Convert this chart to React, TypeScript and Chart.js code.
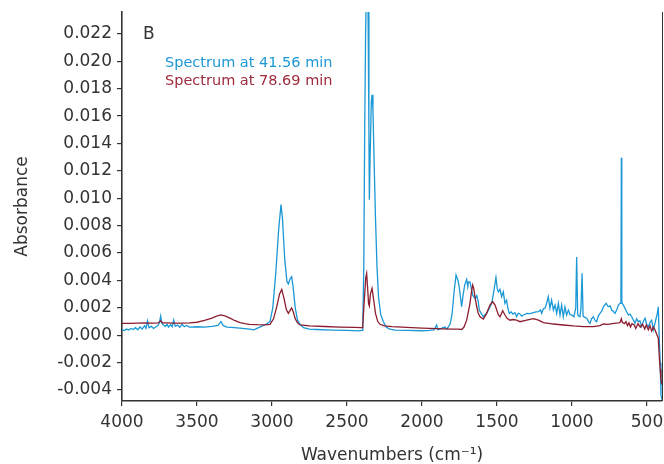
import React, { useEffect, useRef } from 'react';
import { Chart, registerables } from 'chart.js';

Chart.register(...registerables);

// ---- Data (wavenumber, absorbance) ----
const blueWn = [
  4000, 3985, 3970, 3955, 3940, 3925, 3910, 3895, 3880, 3865, 3850, 3840, 3830, 3820, 3805, 3790, 3775, 3760,
  3750, 3742, 3735, 3725, 3710, 3700, 3690, 3675, 3665, 3655, 3645, 3630, 3615, 3600, 3585, 3570, 3550, 3500,
  3450, 3400, 3360, 3340, 3325, 3300, 3250, 3200, 3150, 3120, 3100, 3070, 3040, 3013, 2995, 2975, 2955, 2940,
  2930, 2915, 2900, 2891, 2880, 2869, 2860, 2845, 2830, 2813, 2790, 2750, 2700, 2600, 2500, 2420, 2400, 2395,
  2388, 2382, 2376, 2371, 2369, 2360, 2354, 2351, 2346, 2338, 2333, 2327, 2320, 2310, 2300, 2290, 2275, 2258,
  2240, 2215, 2180, 2100, 2000, 1950, 1920, 1902, 1895, 1880, 1860, 1847, 1835, 1813, 1800, 1785, 1773, 1760,
  1752, 1740, 1736, 1725, 1715, 1702, 1695, 1690, 1680, 1662, 1647, 1635, 1625, 1618, 1605, 1591, 1580, 1569,
  1550, 1535, 1520, 1507, 1498, 1491, 1480, 1469, 1458, 1447, 1436, 1428, 1418, 1405, 1395, 1380, 1369, 1358,
  1347, 1335, 1324, 1310, 1302, 1280, 1258, 1240, 1224, 1210, 1202, 1190, 1180, 1170, 1158, 1147, 1136, 1124,
  1113, 1102, 1091, 1080, 1069, 1058, 1047, 1036, 1024, 1013, 1002, 987, 975, 969, 962, 955, 947, 940, 933, 926,
  915, 902, 890, 880, 870, 858, 847, 836, 825, 813, 800, 791, 773, 758, 745, 736, 725, 713, 700, 691, 680, 674,
  671, 668, 665, 655, 647, 635, 624, 613, 602, 590, 580, 570, 558, 547, 536, 525, 513, 502, 491, 480, 469, 458,
  447, 440, 431, 425, 418, 412, 407, 402, 400,
];
const blueAbs = [
  0.0004, 0.00035, 0.00045, 0.00038, 0.0005, 0.00042, 0.00055, 0.0004, 0.0006, 0.00045, 0.0007, 0.0005, 0.00105,
  0.00055, 0.00065, 0.0005, 0.0006, 0.0007, 0.00095, 0.0014, 0.0009, 0.00075, 0.00065, 0.0008, 0.0006, 0.00078,
  0.00062, 0.0011, 0.00065, 0.00075, 0.00058, 0.0008, 0.00062, 0.00072, 0.0006, 0.00062, 0.0006, 0.00065, 0.00072,
  0.001, 0.0007, 0.0006, 0.00055, 0.0005, 0.00045, 0.0004, 0.0005, 0.00065, 0.0008, 0.001, 0.002, 0.0045, 0.0078,
  0.00954, 0.0085, 0.0055, 0.0039, 0.00374, 0.0041, 0.00427, 0.0036, 0.002, 0.0011, 0.0008, 0.00055, 0.00045,
  0.00042, 0.00038, 0.00035, 0.00032, 0.00035, 0.0006, 0.005, 0.015, 0.022, 0.025, 0.0248, 0.0245, 0.015, 0.0099,
  0.013, 0.017, 0.01755, 0.0165, 0.013, 0.0085, 0.005, 0.0028, 0.0015, 0.001, 0.0006, 0.00045, 0.00038, 0.00035,
  0.00033, 0.00036, 0.0004, 0.00075, 0.0004, 0.00045, 0.00055, 0.0006, 0.00045, 0.0008, 0.0015, 0.0033, 0.00439,
  0.004, 0.00354, 0.0025, 0.00208, 0.003, 0.0037, 0.00408, 0.00354, 0.0039, 0.0039, 0.00293, 0.0027, 0.0029,
  0.00245, 0.00184, 0.0016, 0.00135, 0.0015, 0.0016, 0.002, 0.00233, 0.0033, 0.00422, 0.0034, 0.00317, 0.00335,
  0.00281, 0.00317, 0.00233, 0.00257, 0.002, 0.0016, 0.0017, 0.00155, 0.00165, 0.00135, 0.0016, 0.00155, 0.0014,
  0.00148, 0.00155, 0.0016, 0.00158, 0.00165, 0.0017, 0.00172, 0.00185, 0.0016, 0.00195, 0.00197, 0.0023, 0.00281,
  0.00197, 0.00257, 0.00184, 0.0022, 0.0016, 0.00233, 0.00148, 0.0022, 0.00135, 0.00208, 0.00148, 0.00184, 0.0015,
  0.00148, 0.00135, 0.002, 0.00572, 0.0015, 0.0014, 0.00135, 0.002, 0.00452, 0.0014, 0.0013, 0.00124, 0.001,
  0.00087, 0.0012, 0.00135, 0.0011, 0.00099, 0.0014, 0.0016, 0.0018, 0.00208, 0.00233, 0.00208, 0.00215, 0.00184,
  0.00175, 0.0016, 0.0019, 0.0022, 0.00233, 0.0024, 0.01296, 0.0025, 0.00233, 0.00215, 0.00197, 0.0017, 0.00148,
  0.00155, 0.00135, 0.0011, 0.00087, 0.0012, 0.00099, 0.00105, 0.00063, 0.001, 0.00124, 0.0008, 0.00063, 0.00095,
  0.0011, 0.00039, 0.00087, 0.0012, 0.0016, 0.00208, -0.0003, -0.002, -0.00435, -0.0046, -0.0047,
];

const redWn = [
  4000, 3950, 3900, 3850, 3800, 3760, 3742, 3730, 3700, 3650, 3600, 3550, 3500, 3450, 3400, 3370, 3340, 3310, 3280,
  3250, 3213, 3180, 3150, 3100, 3050, 3013, 2990, 2970, 2950, 2935, 2920, 2905, 2891, 2880, 2869, 2858, 2845, 2830,
  2813, 2750, 2650, 2550, 2450, 2410, 2400, 2395, 2385, 2375, 2369, 2363, 2356, 2351, 2344, 2333, 2325, 2310, 2295,
  2280, 2250, 2200, 2100, 2000, 1900, 1800, 1760, 1735, 1720, 1702, 1680, 1670, 1662, 1655, 1647, 1635, 1625, 1613,
  1591, 1569, 1547, 1529, 1513, 1491, 1480, 1462, 1447, 1433, 1413, 1395, 1369, 1347, 1302, 1258, 1224, 1190, 1124,
  1058, 991, 924, 858, 813, 791, 760, 720, 690, 680, 671, 665, 650, 640, 630, 620, 610, 600, 585, 575, 560, 545, 530,
  515, 505, 491, 480, 469, 458, 447, 436, 425, 418, 412, 407, 402, 400,
];
const redAbs = [
  0.00087, 0.00087, 0.00088, 0.0009, 0.00088, 0.0009, 0.00105, 0.0009, 0.0009, 0.00088, 0.00088, 0.0009, 0.00095,
  0.00108, 0.00125, 0.0014, 0.00148, 0.0014, 0.00125, 0.00108, 0.00092, 0.00085, 0.0008, 0.00077, 0.00076, 0.0008,
  0.0012, 0.002, 0.003, 0.00335, 0.0027, 0.0019, 0.0016, 0.0018, 0.002, 0.0017, 0.0012, 0.0009, 0.00075, 0.00068,
  0.00064, 0.0006, 0.00058, 0.00055, 0.00055, 0.0007, 0.0025, 0.0042, 0.00451, 0.0035, 0.0023, 0.00213, 0.003,
  0.00342, 0.0028, 0.0016, 0.001, 0.0008, 0.00068, 0.00063, 0.00058, 0.00052, 0.00048, 0.00045, 0.00045, 0.00042,
  0.0006, 0.0011, 0.00233, 0.0032, 0.00366, 0.0034, 0.00281, 0.00208, 0.0016, 0.00135, 0.00119, 0.0016, 0.0022,
  0.00245, 0.0022, 0.00148, 0.00135, 0.00179, 0.00148, 0.00124, 0.0011, 0.00115, 0.0011, 0.00099, 0.0011, 0.00121,
  0.0011, 0.00092, 0.00082, 0.00075, 0.00068, 0.00063, 0.00063, 0.0007, 0.00082, 0.0008, 0.00087, 0.0009, 0.00092,
  0.0012, 0.00095, 0.00085, 0.001, 0.0007, 0.0009, 0.0006, 0.00085, 0.00075, 0.0005, 0.00085, 0.0006, 0.0008,
  0.00045, 0.00075, 0.0004, 0.0007, 0.0003, 0.0006, 0.0004, 0.0001, -0.0002, -0.00156, -0.0025, -0.00326, -0.0035,
  -0.0036,
];

const xTickValues = [4000, 3500, 3000, 2500, 2000, 1500, 1000, 500];
const yTickValues = [
  -0.004, -0.002, 0, 0.002, 0.004, 0.006, 0.008, 0.01, 0.012, 0.014, 0.016, 0.018, 0.02, 0.022,
];
const seriesLabels = ['Spectrum at 41.56 min', 'Spectrum at 78.69 min'];
const panelLabel = 'B';
const xTitle = 'Wavenumbers (cm\u207B\u00B9)';
const yTitle = 'Absorbance';

const BLUE = '#1b98d6';
const RED = '#8c1d2e';
const RED_TEXT = '#9e2a3c';
const INK = '#333333';
const FONT = '"DejaVu Sans", sans-serif';

const annotPlugin = {
  id: 'annot',
  afterDraw(chart: any) {
    const { ctx, chartArea: a } = chart;
    ctx.save();
    ctx.textBaseline = 'middle';
    ctx.textAlign = 'left';
    ctx.font = `17px ${FONT}`;
    ctx.fillStyle = INK;
    ctx.fillText(panelLabel, a.left + 21, 35);
    ctx.font = `14.5px ${FONT}`;
    ctx.fillStyle = BLUE;
    ctx.fillText(seriesLabels[0], a.left + 43, 63);
    ctx.fillStyle = RED_TEXT;
    ctx.fillText(seriesLabels[1], a.left + 43, 81);
    ctx.strokeStyle = INK;
    ctx.lineWidth = 1;
    ctx.beginPath();
    ctx.moveTo(a.right + 0.5, a.top);
    ctx.lineTo(a.right + 0.5, a.bottom);
    ctx.stroke();
    ctx.restore();
  },
};

export default function App() {
  const ref = useRef<HTMLCanvasElement>(null);

  useEffect(() => {
    if (!ref.current) return;
    const chart = new Chart(ref.current, {
      type: 'line',
      data: {
        datasets: [
          {
            label: seriesLabels[0],
            data: blueWn.map((x, i) => ({ x, y: blueAbs[i] })),
            borderColor: BLUE,
            borderWidth: 1.3,
            pointRadius: 0,
            tension: 0,
            order: 1,
          },
          {
            label: seriesLabels[1],
            data: redWn.map((x, i) => ({ x, y: redAbs[i] })),
            borderColor: RED,
            borderWidth: 1.3,
            pointRadius: 0,
            tension: 0,
            order: 0,
          },
        ],
      },
      options: {
        animation: false,
        responsive: false,
        maintainAspectRatio: false,
        layout: { padding: { top: 12, right: 2, left: 0, bottom: 0 } },
        plugins: { legend: { display: false }, tooltip: { enabled: false } },
        scales: {
          x: {
            type: 'linear',
            reverse: true,
            min: 400,
            max: 4000,
            afterBuildTicks: (s: any) => {
              s.ticks = xTickValues.map((v) => ({ value: v }));
            },
            afterFit: (s: any) => {
              s.height = 63;
              s.paddingLeft = 0;
              s.paddingRight = 0;
            },
            grid: {
              display: true,
              drawOnChartArea: false,
              drawTicks: true,
              tickLength: 5,
              color: INK,
              lineWidth: 1.2,
            },
            border: { display: true, color: INK, width: 1.6 },
            ticks: {
              color: INK,
              font: { family: FONT, size: 17 },
              padding: 6,
              maxRotation: 0,
              autoSkip: false,
              callback: (v: any) => String(v),
            },
            title: {
              display: true,
              text: xTitle,
              color: INK,
              font: { family: FONT, size: 17 },
              padding: { top: 0, bottom: -2 },
            },
          },
          y: {
            type: 'linear',
            min: -0.0048,
            max: 0.0236,
            afterBuildTicks: (s: any) => {
              s.ticks = yTickValues.map((v) => ({ value: v }));
            },
            afterFit: (s: any) => {
              s.width = 122;
              s.paddingTop = 0;
              s.paddingBottom = 0;
            },
            grid: {
              display: true,
              drawOnChartArea: false,
              drawTicks: true,
              tickLength: 5,
              color: INK,
              lineWidth: 1.2,
            },
            border: { display: true, color: INK, width: 1.6 },
            ticks: {
              color: INK,
              font: { family: FONT, size: 17 },
              padding: 5,
              autoSkip: false,
              callback: (v: any) => Number(v).toFixed(3),
            },
            title: {
              display: true,
              text: yTitle,
              color: INK,
              font: { family: FONT, size: 17 },
              padding: { top: 12, bottom: 0 },
            },
          },
        },
      },
      plugins: [annotPlugin],
    } as any);
    return () => chart.destroy();
  }, []);

  return (
    <div style={{ position: 'absolute', left: 0, top: 0, width: 664, height: 464 }}>
      <canvas ref={ref} width={664} height={464} />
    </div>
  );
}
